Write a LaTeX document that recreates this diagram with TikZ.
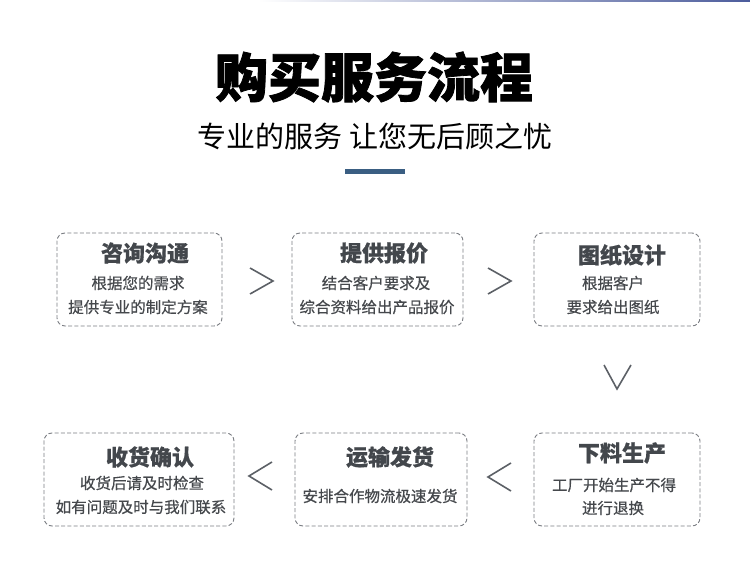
\documentclass[tikz,border=0pt]{standalone}
\usepackage{fontspec}
\setmainfont{Noto Sans CJK SC}
\definecolor{boxline}{HTML}{7A7D82}
\definecolor{headgray}{HTML}{43474C}
\definecolor{bodygray}{HTML}{45484C}
\definecolor{chevgray}{HTML}{5C6066}
\definecolor{barblue}{HTML}{3A5E82}
\definecolor{topblue}{HTML}{4C5C9C}
\begin{document}
\begin{tikzpicture}[x=1pt,y=-1pt]

    \tikzset{stepbox/.style={draw=boxline,dashed,dash pattern=on 4pt off 2.2pt,line width=0.9pt,
        rounded corners=8pt,inner sep=0pt,minimum height=93pt},
        boxhead/.style={text=headgray,font=\fontsize{22}{26}\selectfont\bfseries\addfontfeature{FakeBold=0.6}},
        boxtext/.style={text=bodygray,font=\fontsize{15.5}{18}\selectfont\addfontfeature{FakeBold=0.6}},
        chev/.style={draw=chevgray,line width=1.6pt}}

    \useasboundingbox (0,0) rectangle (750,585);
    \shade[left color=white,right color=topblue] (258,0) rectangle (750,1.5);

    % Titel
    \node[text=black,font=\fontsize{53}{62}\selectfont\bfseries\addfontfeature{FakeBold=1.5}] (titel) at (374,77) {购买服务流程};
    \node[text=black,font=\fontsize{29}{34}\selectfont] (untertitel) at (375,136) {专业的服务 让您无后顾之忧};
    \fill[barblue] (345,169) rectangle (405,174);

    % Kaesten
    \node[stepbox,minimum width=165pt] (zixun) at (139.5,279.5) {};
    \node[stepbox,minimum width=171pt] (baojia) at (377.5,279.5) {};
    \node[stepbox,minimum width=166pt] (tuzhi) at (617,279.5) {};
    \node[stepbox,minimum width=166pt] (shengchan) at (617,479.5) {};
    \node[stepbox,minimum width=172pt] (fahuo) at (381,479.5) {};
    \node[stepbox,minimum width=190pt] (queren) at (139,479.5) {};

    \node[boxhead] (zixunh) at (145,253) {咨询沟通};
    \node[boxtext] (zixun1) at (138,283) {根据您的需求};
    \node[boxtext] (zixun2) at (138,307) {提供专业的制定方案};

    \node[boxhead] (baojiah) at (384,253) {提供报价};
    \node[boxtext] (baojia1) at (376,283) {结合客户要求及};
    \node[boxtext] (baojia2) at (377,307) {综合资料给出产品报价};

    \node[boxhead] (tuzhih) at (622,255) {图纸设计};
    \node[boxtext] (tuzhi1) at (613,283) {根据客户};
    \node[boxtext] (tuzhi2) at (613,307) {要求给出图纸};

    \node[boxhead] (shengchanh) at (622,453) {下料生产};
    \node[boxtext] (shengchan1) at (614,485) {工厂开始生产不得};
    \node[boxtext] (shengchan2) at (613,508) {进行退换};

    \node[boxhead] (fahuoh) at (390,457) {运输发货};
    \node[boxtext] (fahuo1) at (380,496) {安排合作物流极速发货};

    \node[boxhead] (querenh) at (150,457) {收货确认};
    \node[boxtext] (queren1) at (142,483) {收货后请及时检查};
    \node[boxtext] (queren2) at (141,507) {如有问题及时与我们联系};

    % Pfeile
    \draw[chev] (250,268) -- (273,281) -- (250,294);
    \draw[chev] (488,268) -- (511,281) -- (488,294);
    \draw[chev] (604,365) -- (617,389) -- (631,365);
    \draw[chev] (511,463) -- (488,477) -- (511,491);
    \draw[chev] (272,462) -- (249,476) -- (272,490);

\end{tikzpicture}
\end{document}
